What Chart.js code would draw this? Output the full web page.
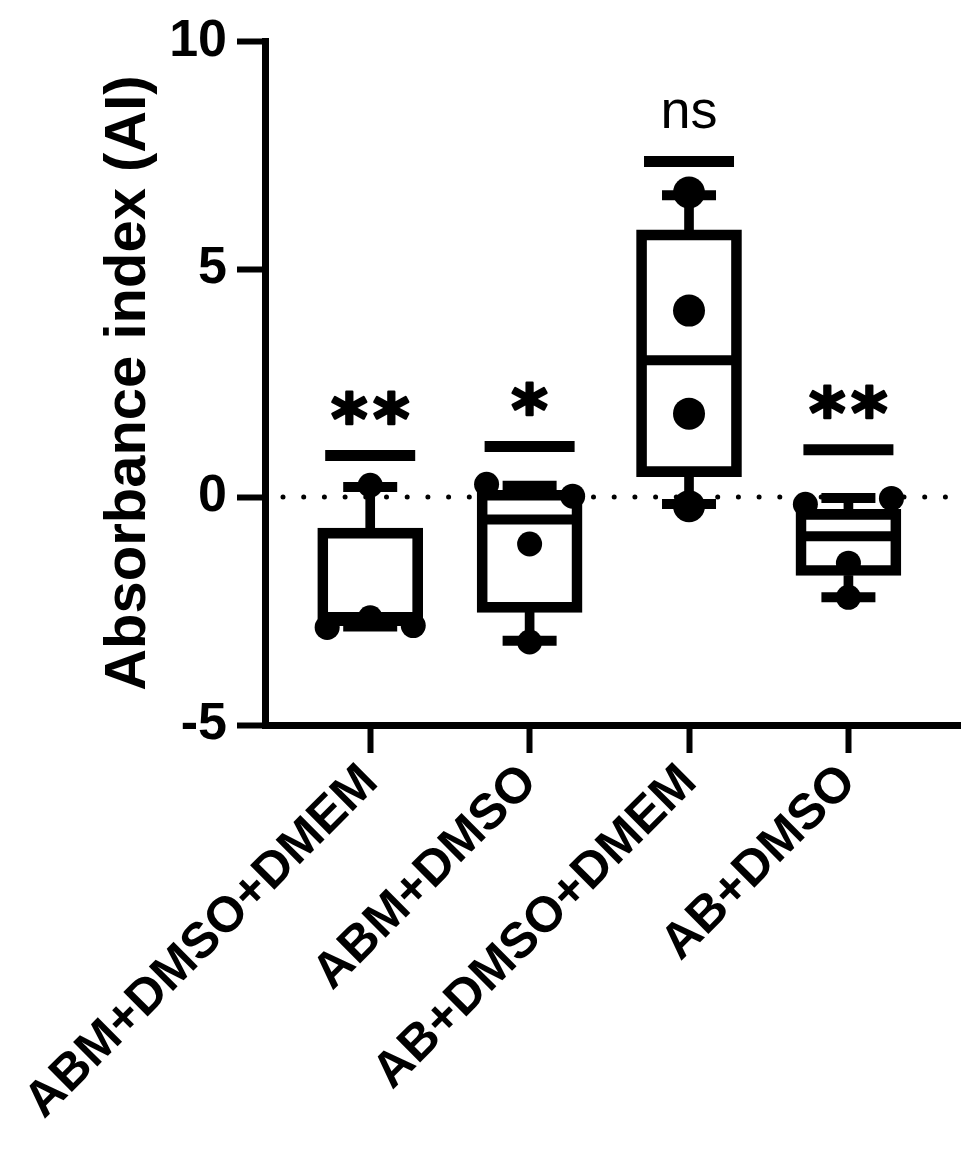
<!DOCTYPE html>
<html lang="en">
<head>
<meta charset="UTF-8">
<title>Absorbance index (AI)</title>
<script src="https://cdn.jsdelivr.net/npm/chart.js"></script>
<style>
  html, body { margin: 0; padding: 0; background: #fff; }
</style>
</head>
<body>
<canvas id="chart" width="968" height="1172"></canvas>
<script>
// groups on the x axis
var categories = ['ABM+DMSO+DMEM', 'ABM+DMSO', 'AB+DMSO+DMEM', 'AB+DMSO'];

// box plot values
var minVals    = [-2.84, -3.15, -0.15, -2.20];
var q1Vals     = [-2.75, -2.53,  0.45, -1.72];
var medianVals = [-2.72, -0.49,  3.00, -0.86];
var q3Vals     = [-0.68,  0.15,  5.86, -0.27];
var maxVals    = [ 0.22,  0.25,  6.62, -0.02];

// single replicates per group
var ptsABM_DMSO_DMEM = [-2.86, -2.65, -2.82, 0.26];
var ptsABM_DMSO      = [0.28, 0.02, -1.03, -3.18];
var ptsAB_DMSO_DMEM  = [6.68, 4.09, 1.83, -0.20];
var ptsAB_DMSO       = [-0.16, -0.03, -1.45, -2.20];
var groupPoints = [ptsABM_DMSO_DMEM, ptsABM_DMSO, ptsAB_DMSO_DMEM, ptsAB_DMSO];

// significance marks above each box
var sigLabels  = ['**', '*', 'ns', '**'];
var sigHeights = [0.91, 1.11, 7.36, 1.04];

var yTicks = [-5, 0, 5, 10];

// spread points sitting on top of each other sideways (simple beeswarm)
function swarm(values, g) {
    var order = values.map(function (v, i) { return i; })
        .sort(function (a, b) { return values[a] - values[b]; });
    var clusters = [], cur = [order[0]];
    for (var k = 1; k < order.length; k++) {
        if (values[order[k]] - values[order[k - 1]] < 0.5) cur.push(order[k]);
        else { clusters.push(cur); cur = [order[k]]; }
    }
    clusters.push(cur);
    var out = [];
    clusters.forEach(function (cl) {
        cl.sort(function (a, b) { return a - b; });
        var n = cl.length, f = (n % 2 === 0) ? 2 : 1;
        cl.forEach(function (idx, j) {
            out.push({ x: g + 1 + (j - (n - 1) / 2) * f * 0.27, y: values[idx], g: g });
        });
    });
    return out;
}

var boxData = [], upperWhisker = [], lowerWhisker = [], caps = [], medians = [], sigBars = [], dots = [];
categories.forEach(function (c, i) {
    var x = i + 1;
    boxData.push({ x: x, y: [q1Vals[i], q3Vals[i]] });
    upperWhisker.push({ x: x, y: [q3Vals[i], maxVals[i]] });
    lowerWhisker.push({ x: x, y: [minVals[i], q1Vals[i]] });
    caps.push({ x: x, y: minVals[i] }, { x: x, y: maxVals[i] });
    medians.push({ x: x, y: medianVals[i] });
    sigBars.push({ x: x, y: sigHeights[i] });
    dots = dots.concat(swarm(groupPoints[i], i));
});

var FONT = '"Liberation Sans", Arial, sans-serif';

// dotted zero line + significance text
var extras = {
    id: 'extras',
    beforeDatasetsDraw: function (chart) {
        var ctx = chart.ctx, a = chart.chartArea;
        var y = chart.scales.y.getPixelForValue(0);
        ctx.save();
        ctx.strokeStyle = '#000';
        ctx.lineWidth = 5;
        ctx.lineCap = 'round';
        ctx.setLineDash([0, 20.7]);
        ctx.beginPath();
        ctx.moveTo(a.left + 18, y);
        ctx.lineTo(a.right, y);
        ctx.stroke();
        ctx.restore();
    },
    afterDatasetsDraw: function (chart) {
        var ctx = chart.ctx, xs = chart.scales.x, ys = chart.scales.y;
        ctx.save();
        ctx.fillStyle = '#000';
        ctx.strokeStyle = '#000';
        ctx.lineJoin = 'round';
        ctx.textAlign = 'center';
        ctx.textBaseline = 'alphabetic';
        sigLabels.forEach(function (lab, i) {
            var x = xs.getPixelForValue(i + 1);
            var yc = ys.getPixelForValue(sigHeights[i]) - 48;
            var stars = /^\*+$/.test(lab);
            ctx.font = stars ? 'bold 70px "DejaVu Sans", ' + FONT : '54px ' + FONT;
            var m = ctx.measureText(stars ? '*' : lab);
            var base = yc + (m.actualBoundingBoxAscent - m.actualBoundingBoxDescent) / 2;
            if (stars) {
                ctx.lineWidth = 2.5;
                for (var k = 0; k < lab.length; k++) {
                    var sx = x + (k - (lab.length - 1) / 2) * 42;
                    ctx.fillText('*', sx, base);
                    ctx.strokeText('*', sx, base);
                }
            } else {
                ctx.fillText(lab, x, base);
            }
        });
        ctx.restore();
    }
};

var ctx = document.getElementById('chart').getContext('2d');
new Chart(ctx, {
    type: 'scatter',
    data: {
        datasets: [
            {
                type: 'scatter', data: dots, order: 0,
                pointStyle: 'circle',
                pointRadius: function (c) { return c.raw && c.raw.g === 2 ? 16 : 12.5; },
                pointBackgroundColor: '#000', pointBorderWidth: 0, clip: false
            },
            {
                type: 'scatter', data: caps, order: 1,
                pointStyle: 'line', pointRadius: 27, pointBorderWidth: 10,
                pointBorderColor: '#000', clip: false
            },
            {
                type: 'scatter', data: medians, order: 1,
                pointStyle: 'line', pointRadius: 50, pointBorderWidth: 10,
                pointBorderColor: '#000', clip: false
            },
            {
                type: 'scatter', data: sigBars, order: 1,
                pointStyle: 'line', pointRadius: 45, pointBorderWidth: 11,
                pointBorderColor: '#000', clip: false
            },
            {
                type: 'bar', data: boxData, order: 2, grouped: false,
                backgroundColor: 'rgba(0,0,0,0)', borderColor: '#000',
                borderWidth: 10, borderSkipped: false, barThickness: 105
            },
            {
                type: 'bar', data: upperWhisker, order: 3, grouped: false,
                backgroundColor: '#000', borderWidth: 0, barThickness: 9
            },
            {
                type: 'bar', data: lowerWhisker, order: 3, grouped: false,
                backgroundColor: '#000', borderWidth: 0, barThickness: 9
            }
        ]
    },
    options: {
        responsive: false,
        animation: false,
        devicePixelRatio: 1,
        layout: { autoPadding: false, padding: { top: 37, right: 8, bottom: 0, left: 0 } },
        plugins: {
            legend: { display: false },
            tooltip: { enabled: false }
        },
        scales: {
            x: {
                type: 'linear',
                min: 0.34,
                max: 4.7,
                offset: false,
                afterBuildTicks: function (s) {
                    s.ticks = categories.map(function (c, i) { return { value: i + 1 }; });
                },
                afterFit: function (s) {
                    s.height = 447;
                    s.paddingLeft = 0;
                    s.paddingRight = 0;
                },
                ticks: {
                    autoSkip: false,
                    minRotation: 45,
                    maxRotation: 45,
                    padding: 0,
                    color: '#000',
                    font: { family: FONT, size: 50, weight: 'bold' },
                    callback: function (v) { return categories[Math.round(v) - 1]; }
                },
                grid: {
                    offset: false,
                    drawOnChartArea: false, drawTicks: true,
                    tickLength: 28, tickWidth: 6, tickColor: '#000'
                },
                border: { display: true, color: '#000', width: 7 }
            },
            y: {
                min: -5,
                max: 10,
                afterBuildTicks: function (s) {
                    s.ticks = yTicks.map(function (v) { return { value: v }; });
                },
                afterFit: function (s) { s.width = 265; },
                ticks: {
                    padding: 10,
                    color: '#000',
                    font: { family: FONT, size: 52, weight: 'bold' }
                },
                grid: {
                    drawOnChartArea: false, drawTicks: true,
                    tickLength: 28, tickWidth: 6, tickColor: '#000'
                },
                border: { display: true, color: '#000', width: 7 },
                title: {
                    display: true,
                    text: 'Absorbance index (AI)',
                    color: '#000',
                    padding: { top: 94, bottom: 0 },
                    font: { family: FONT, size: 58, weight: 'bold' }
                }
            }
        }
    },
    plugins: [extras]
});
</script>
</body>
</html>
